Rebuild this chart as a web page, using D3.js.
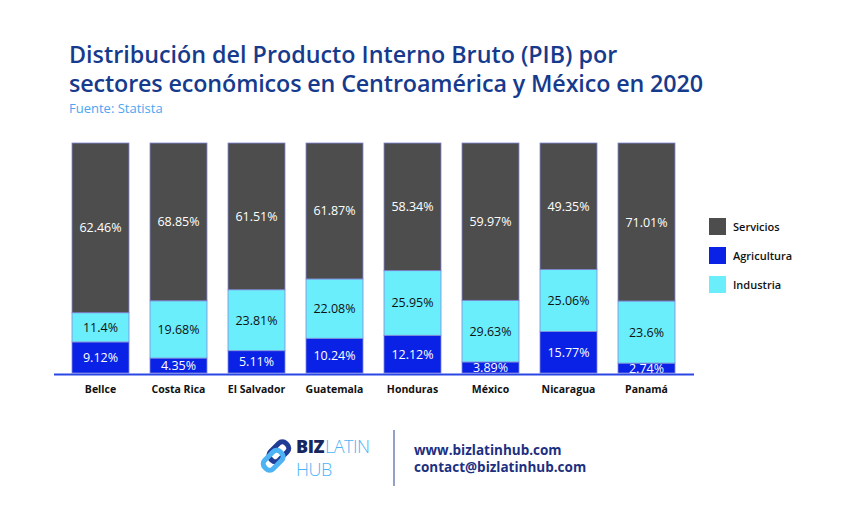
<!DOCTYPE html>
<html>
<head>
<meta charset="utf-8">
<script src="https://cdn.jsdelivr.net/npm/d3@7"></script>
<style>
  html, body { margin: 0; padding: 0; background: #ffffff; }
  svg { display: block; }
</style>
</head>
<body>
<svg id="chart" width="850" height="510"></svg>
<script>
// ---- Data ----
const categories = ["Bellce", "Costa Rica", "El Salvador", "Guatemala", "Honduras", "México", "Nicaragua", "Panamá"];
// labelled values (%)
const agricultura = [9.12, 4.35, 5.11, 10.24, 12.12, 3.89, 15.77, 2.74];
const industria   = [11.4, 19.68, 23.81, 22.08, 25.95, 29.63, 25.06, 23.6];
const servicios   = [62.46, 68.85, 61.51, 61.87, 58.34, 59.97, 49.35, 71.01];
// segment heights as drawn in the picture (% of each bar)
const agriculturaDrawn = [13.5, 6.5, 9.7, 15.1, 16.4, 4.8, 18.0, 4.3];
const industriaDrawn   = [12.7, 24.9, 26.5, 25.8, 28.1, 26.8, 27.0, 27.0];
const serviciosDrawn   = [73.8, 68.6, 63.8, 59.1, 55.5, 68.4, 55.0, 68.7];

const seriesNames = ["Agricultura", "Industria", "Servicios"];
const legendOrder = ["Servicios", "Agricultura", "Industria"];
const colors = { Servicios: "#4d4d4d", Agricultura: "#0a22e6", Industria: "#6aeefc" };
const labelColors = { Servicios: "#ffffff", Agricultura: "#ffffff", Industria: "#111111" };

const labels = { Agricultura: agricultura, Industria: industria, Servicios: servicios };
const table = categories.map((c, i) => ({
  country: c, idx: i,
  Agricultura: agriculturaDrawn[i], Industria: industriaDrawn[i], Servicios: serviciosDrawn[i]
}));

const svg = d3.select("#chart");
const font = "'Open Sans', 'Noto Sans', sans-serif";

// ---- Title ----
const titleColor = "#163a8c";
svg.append("text").attr("x", 69).attr("y", 63)
  .attr("font-family", font).attr("font-size", 23.3).attr("font-weight", 600)
  .attr("fill", titleColor)
  .text("Distribución del Producto Interno Bruto (PIB) por");
svg.append("text").attr("x", 69).attr("y", 92)
  .attr("font-family", font).attr("font-size", 23.3).attr("font-weight", 600)
  .attr("fill", titleColor).attr("textLength", 634)
  .text("sectores económicos en Centroamérica y México en 2020");
svg.append("text").attr("x", 69).attr("y", 113)
  .attr("font-family", font).attr("font-size", 13)
  .attr("fill", "#4aa6f2")
  .text("Fuente: Statista");

// ---- Scales ----
const x = d3.scaleBand().domain(categories).range([61.5, 685.5])
  .paddingInner(21 / 78).paddingOuter(21 / 156);
const y = d3.scaleLinear().domain([0, 1]).range([373, 143]);

const stack = d3.stack().keys(seriesNames).offset(d3.stackOffsetExpand);
const layers = stack(table);

const g = svg.append("g");
layers.forEach(layer => {
  const key = layer.key;
  g.append("g").selectAll("rect").data(layer).join("rect")
    .attr("x", d => x(d.data.country))
    .attr("width", x.bandwidth())
    .attr("y", d => y(d[1]))
    .attr("height", d => y(d[0]) - y(d[1]))
    .attr("fill", colors[key])
    .attr("stroke", "#8088d8").attr("stroke-width", 0.8);
});
layers.forEach(layer => {
  const key = layer.key;
  g.append("g").selectAll("text").data(layer).join("text")
    .attr("x", d => x(d.data.country) + x.bandwidth() / 2)
    .attr("y", d => (y(d[0]) + y(d[1])) / 2)
    .attr("dy", "0.36em")
    .attr("text-anchor", "middle")
    .attr("font-family", font).attr("font-size", 12.5)
    .attr("fill", labelColors[key])
    .text(d => labels[key][d.data.idx] + "%");
});

// ---- Axis line ----
svg.append("line").attr("x1", 54).attr("x2", 694).attr("y1", 374.5).attr("y2", 374.5)
  .attr("stroke", "#2a47e6").attr("stroke-width", 2);

// ---- Category labels ----
const xAxis = svg.append("g").attr("transform", "translate(0,375)")
  .call(d3.axisBottom(x).tickSize(0).tickPadding(11));
xAxis.select(".domain").remove();
xAxis.selectAll("text")
  .attr("font-family", font).attr("font-size", 10.5).attr("font-weight", 700)
  .attr("fill", "#111111");

// ---- Legend ----
const legend = svg.append("g").attr("transform", "translate(709,218)");
legendOrder.forEach((k, i) => {
  const row = legend.append("g").attr("transform", `translate(0,${i * 29})`);
  row.append("rect").attr("width", 17).attr("height", 17).attr("fill", colors[k]);
  row.append("text").attr("x", 24).attr("y", 13)
    .attr("font-family", font).attr("font-size", 11).attr("font-weight", 600)
    .attr("fill", "#111111").text(k);
});

// ---- Footer / logo ----
const logo = svg.append("g").attr("transform", "translate(276,456)");
logo.append("rect").attr("x", -7).attr("y", -16).attr("width", 12).attr("height", 22).attr("rx", 5)
  .attr("fill", "none").attr("stroke", "#1f3c96").attr("stroke-width", 5)
  .attr("transform", "rotate(45)");
logo.append("rect").attr("x", -5).attr("y", -6).attr("width", 12).attr("height", 22).attr("rx", 5)
  .attr("fill", "none").attr("stroke", "#4db3f5").attr("stroke-width", 5)
  .attr("transform", "rotate(45)");

svg.append("text").attr("x", 296).attr("y", 453)
  .attr("font-family", font).attr("font-size", 18).attr("font-weight", 800)
  .attr("fill", "#17275e").attr("letter-spacing", -0.5).text("BIZ");
svg.append("text").attr("x", 325).attr("y", 453)
  .attr("font-family", font).attr("font-size", 18).attr("font-weight", 300)
  .attr("fill", "#4db3f5").attr("letter-spacing", -0.5).text("LATIN");
svg.append("text").attr("x", 296).attr("y", 476)
  .attr("font-family", font).attr("font-size", 18).attr("font-weight", 300)
  .attr("fill", "#4db3f5").attr("letter-spacing", -0.5).text("HUB");

svg.append("line").attr("x1", 394).attr("x2", 394).attr("y1", 430).attr("y2", 486)
  .attr("stroke", "#6f80b8").attr("stroke-width", 1.5);

svg.append("text").attr("x", 414).attr("y", 455)
  .attr("font-family", font).attr("font-size", 13.5).attr("font-weight", 700)
  .attr("fill", "#1c2f80").text("www.bizlatinhub.com");
svg.append("text").attr("x", 414).attr("y", 472)
  .attr("font-family", font).attr("font-size", 13.5).attr("font-weight", 700)
  .attr("fill", "#1c2f80").text("contact@bizlatinhub.com");
</script>
</body>
</html>
